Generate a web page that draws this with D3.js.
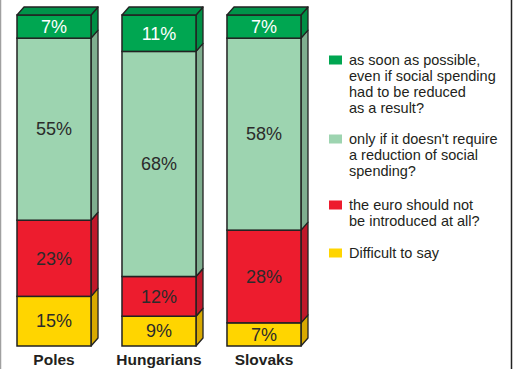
<!DOCTYPE html>
<html>
<head>
<meta charset="utf-8">
<script src="https://cdn.jsdelivr.net/npm/d3@7/dist/d3.min.js"></script>
<style>
  html, body { margin: 0; padding: 0; background: #fff; }
  svg { display: block; }
  text { font-family: "Liberation Sans", Arial, sans-serif; }
</style>
</head>
<body>
<svg id="chart" width="513" height="369"></svg>
<script>
// Survey groups and answer shares (percent), stacked bottom to top
const groups = ["Poles", "Hungarians", "Slovaks"];
const answers = ["asap", "noCut", "never", "dunno"];
const asap  = [7, 11, 7];
const noCut = [55, 68, 58];
const never = [23, 12, 28];
const dunno = [15, 9, 7];

const legendLines = [
  ["as soon as possible,", "even if social spending", "had to be reduced", "as a result?"],
  ["only if it doesn't require", "a reduction of social", "spending?"],
  ["the euro should not", "be introduced at all?"],
  ["Difficult to say"]
];

// front / side / top face colours per answer
const palette = {
  asap:  { front: "#00a651", side: "#008f45", top: "#00934a", text: "#ffffff" },
  noCut: { front: "#9dd4b0", side: "#7fae8f", top: "#8cc29e", text: "#2b2b2b" },
  never: { front: "#ed1c2e", side: "#c0182a", top: "#d01a2c", text: "#2b2b2b" },
  dunno: { front: "#ffd500", side: "#d8a900", top: "#e8bf00", text: "#2b2b2b" }
};

const series = { asap, noCut, never, dunno };
const rows = groups.map((g, i) => {
  const r = { group: g };
  answers.forEach(a => r[a] = series[a][i]);
  return r;
});

const svg = d3.select("#chart");
const W = 513, H = 369;

// frame lines at the left and right edges
svg.append("line").attr("x1", 0.5).attr("x2", 0.5).attr("y1", 0).attr("y2", H)
  .attr("stroke", "#a0a0a0").attr("stroke-width", 1.5);
svg.append("line").attr("x1", 511.5).attr("x2", 511.5).attr("y1", 0).attr("y2", H)
  .attr("stroke", "#222").attr("stroke-width", 1.5);

const x = d3.scaleBand().domain(groups).range([10, 308]).paddingInner(0.295).paddingOuter(0.0667);
const y = d3.scaleLinear().domain([0, 100]).range([346, 15]);
const dx = 7, dy = 8;

const stack = d3.stack().keys(["dunno", "never", "noCut", "asap"]);
const layers = stack(rows);

const g = svg.append("g");

layers.forEach(layer => {
  const key = layer.key;
  const c = palette[key];
  layer.forEach((d, i) => {
    const gx = x(groups[i]);
    const bw = x.bandwidth();
    const y0 = y(d[0]), y1 = y(d[1]);
    // side face
    g.append("path")
      .attr("d", `M${gx + bw},${y1} L${gx + bw + dx},${y1 - dy} L${gx + bw + dx},${y0 - dy} L${gx + bw},${y0} Z`)
      .attr("fill", c.side).attr("stroke", "#222").attr("stroke-width", 1.3)
      .attr("stroke-linejoin", "round");
    // front face
    g.append("rect")
      .attr("x", gx).attr("y", y1).attr("width", bw).attr("height", y0 - y1)
      .attr("fill", c.front).attr("stroke", "#222").attr("stroke-width", 1.5);
    // top face on the uppermost segment
    if (d[1] >= 100) {
      g.append("path")
        .attr("d", `M${gx},${y1} L${gx + dx},${y1 - dy} L${gx + bw + dx},${y1 - dy} L${gx + bw},${y1} Z`)
        .attr("fill", c.top).attr("stroke", "#222").attr("stroke-width", 1.3)
        .attr("stroke-linejoin", "round");
    }
    // value label
    g.append("text")
      .attr("x", gx + bw / 2).attr("y", (y0 + y1) / 2)
      .attr("dy", "0.35em").attr("text-anchor", "middle")
      .attr("font-size", 18).attr("fill", c.text)
      .text(d.data[key] + "%");
  });
});

// group labels under the bars
svg.append("g").selectAll("text").data(groups).join("text")
  .attr("x", d => x(d) + x.bandwidth() / 2).attr("y", 365)
  .attr("text-anchor", "middle").attr("font-size", 15.5).attr("font-weight", "bold")
  .attr("fill", "#231f20").text(d => d);

// legend
const legendTop = [65, 144, 210, 258];
const lg = svg.append("g");
answers.forEach((a, i) => {
  lg.append("rect").attr("x", 329).attr("y", legendTop[i] - 9.5)
    .attr("width", 13).attr("height", 9).attr("fill", palette[a].front);
  const t = lg.append("text").attr("x", 349).attr("y", legendTop[i])
    .attr("font-size", 14.5).attr("fill", "#231f20");
  legendLines[i].forEach((line, j) => {
    t.append("tspan").attr("x", 349).attr("dy", j === 0 ? 0 : 16).text(line);
  });
});
</script>
</body>
</html>
